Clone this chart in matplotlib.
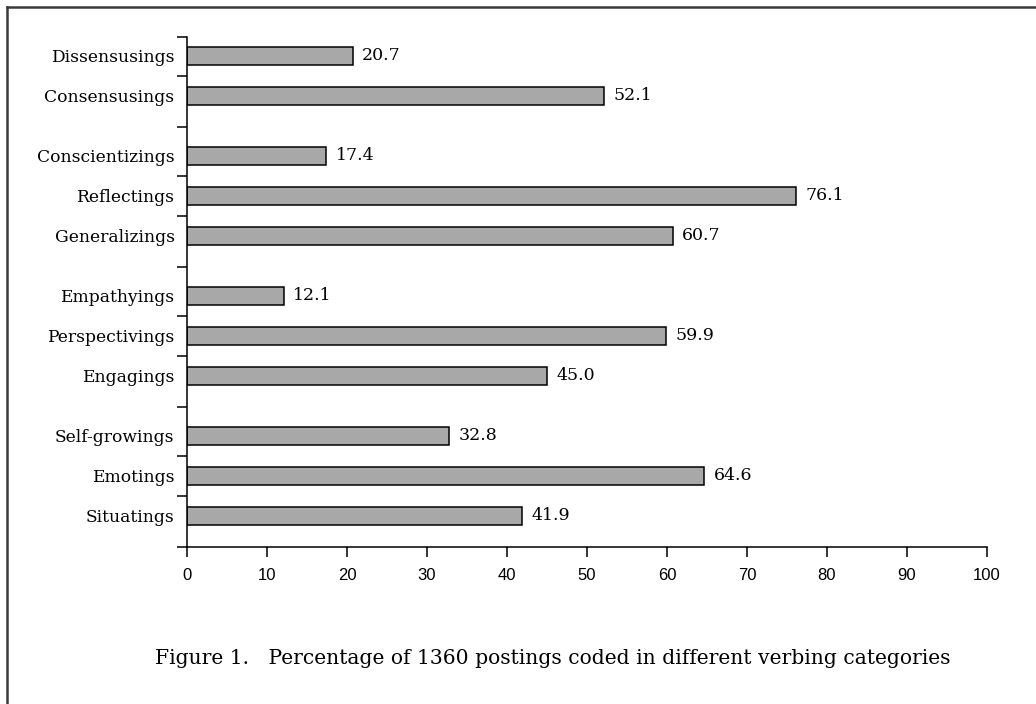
import matplotlib
matplotlib.use("Agg")
import matplotlib.pyplot as plt
from matplotlib.lines import Line2D
import numpy as np

# categories grouped as in the figure (top to bottom)
groups = [
    ["Dissensusings", "Consensusings"],
    ["Conscientizings", "Reflectings", "Generalizings"],
    ["Empathyings", "Perspectivings", "Engagings"],
    ["Self-growings", "Emotings", "Situatings"],
]
values = [
    [20.7, 52.1],
    [17.4, 76.1, 60.7],
    [12.1, 59.9, 45.0],
    [32.8, 64.6, 41.9],
]
x_ticks = [0, 10, 20, 30, 40, 50, 60, 70, 80, 90, 100]
caption = "Figure 1.   Percentage of 1360 postings coded in different verbing categories"

serif = ["DejaVu Serif", "Liberation Serif"]
narrow = ["Liberation Sans Narrow", "Liberation Sans", "DejaVu Sans"]

# layout of the slots: 4 units per bar, 6 between groups
pos = []
bounds = [0.0]
y = 1.9
for gi, g in enumerate(groups):
    for j in range(len(g)):
        pos.append(y)
        if j < len(g) - 1:
            bounds.append(y + 2.0)
            y += 4.0
    bounds.append(y + 3.1)
    y += 6.0
labels = [n for g in groups for n in g]
vals = [v for g in values for v in g]

fig = plt.figure(figsize=(10.36, 7.04), dpi=100)
ax = fig.add_axes([187 / 1036, 1 - 547 / 704, 800 / 1036, 510 / 704])

ax.barh(pos, vals, height=1.8, color="#a8a8a8", edgecolor="black", linewidth=1.1)
for p, v in zip(pos, vals):
    ax.text(v + 1.2, p, f"{v:.1f}", va="center", ha="left",
            fontsize=12.5, family=serif)

ax.set_xlim(0, 100)
ax.set_ylim(bounds[-1], 0)
ax.set_xticks(x_ticks)
ax.set_xticklabels([str(t) for t in x_ticks], family=narrow, fontsize=12)
ax.set_yticks(pos)
ax.set_yticklabels(labels, family=serif, fontsize=12.3)
ax.set_yticks(bounds, minor=True)
ax.tick_params(axis="y", which="major", length=0, pad=9)
ax.tick_params(axis="y", which="minor", length=7, width=1.1, direction="out")
ax.tick_params(axis="x", length=7, width=1.1, direction="out", pad=8)

ax.spines["top"].set_visible(False)
ax.spines["right"].set_visible(False)
ax.spines["left"].set_linewidth(1.1)
ax.spines["bottom"].set_linewidth(1.1)

fig.text(553 / 1036, 1 - 658 / 704, caption, ha="center", va="center",
         fontsize=14.6, family=serif)

# frame lines at the top and left
fig.add_artist(Line2D([6.5 / 1036, 6.5 / 1036], [0, 1 - 6.5 / 704],
                      color="#3a3a3a", linewidth=1.8, transform=fig.transFigure))
fig.add_artist(Line2D([6.5 / 1036, 1], [1 - 6.5 / 704, 1 - 6.5 / 704],
                      color="#3a3a3a", linewidth=1.8, transform=fig.transFigure))

fig.savefig("out.png", dpi=100)
